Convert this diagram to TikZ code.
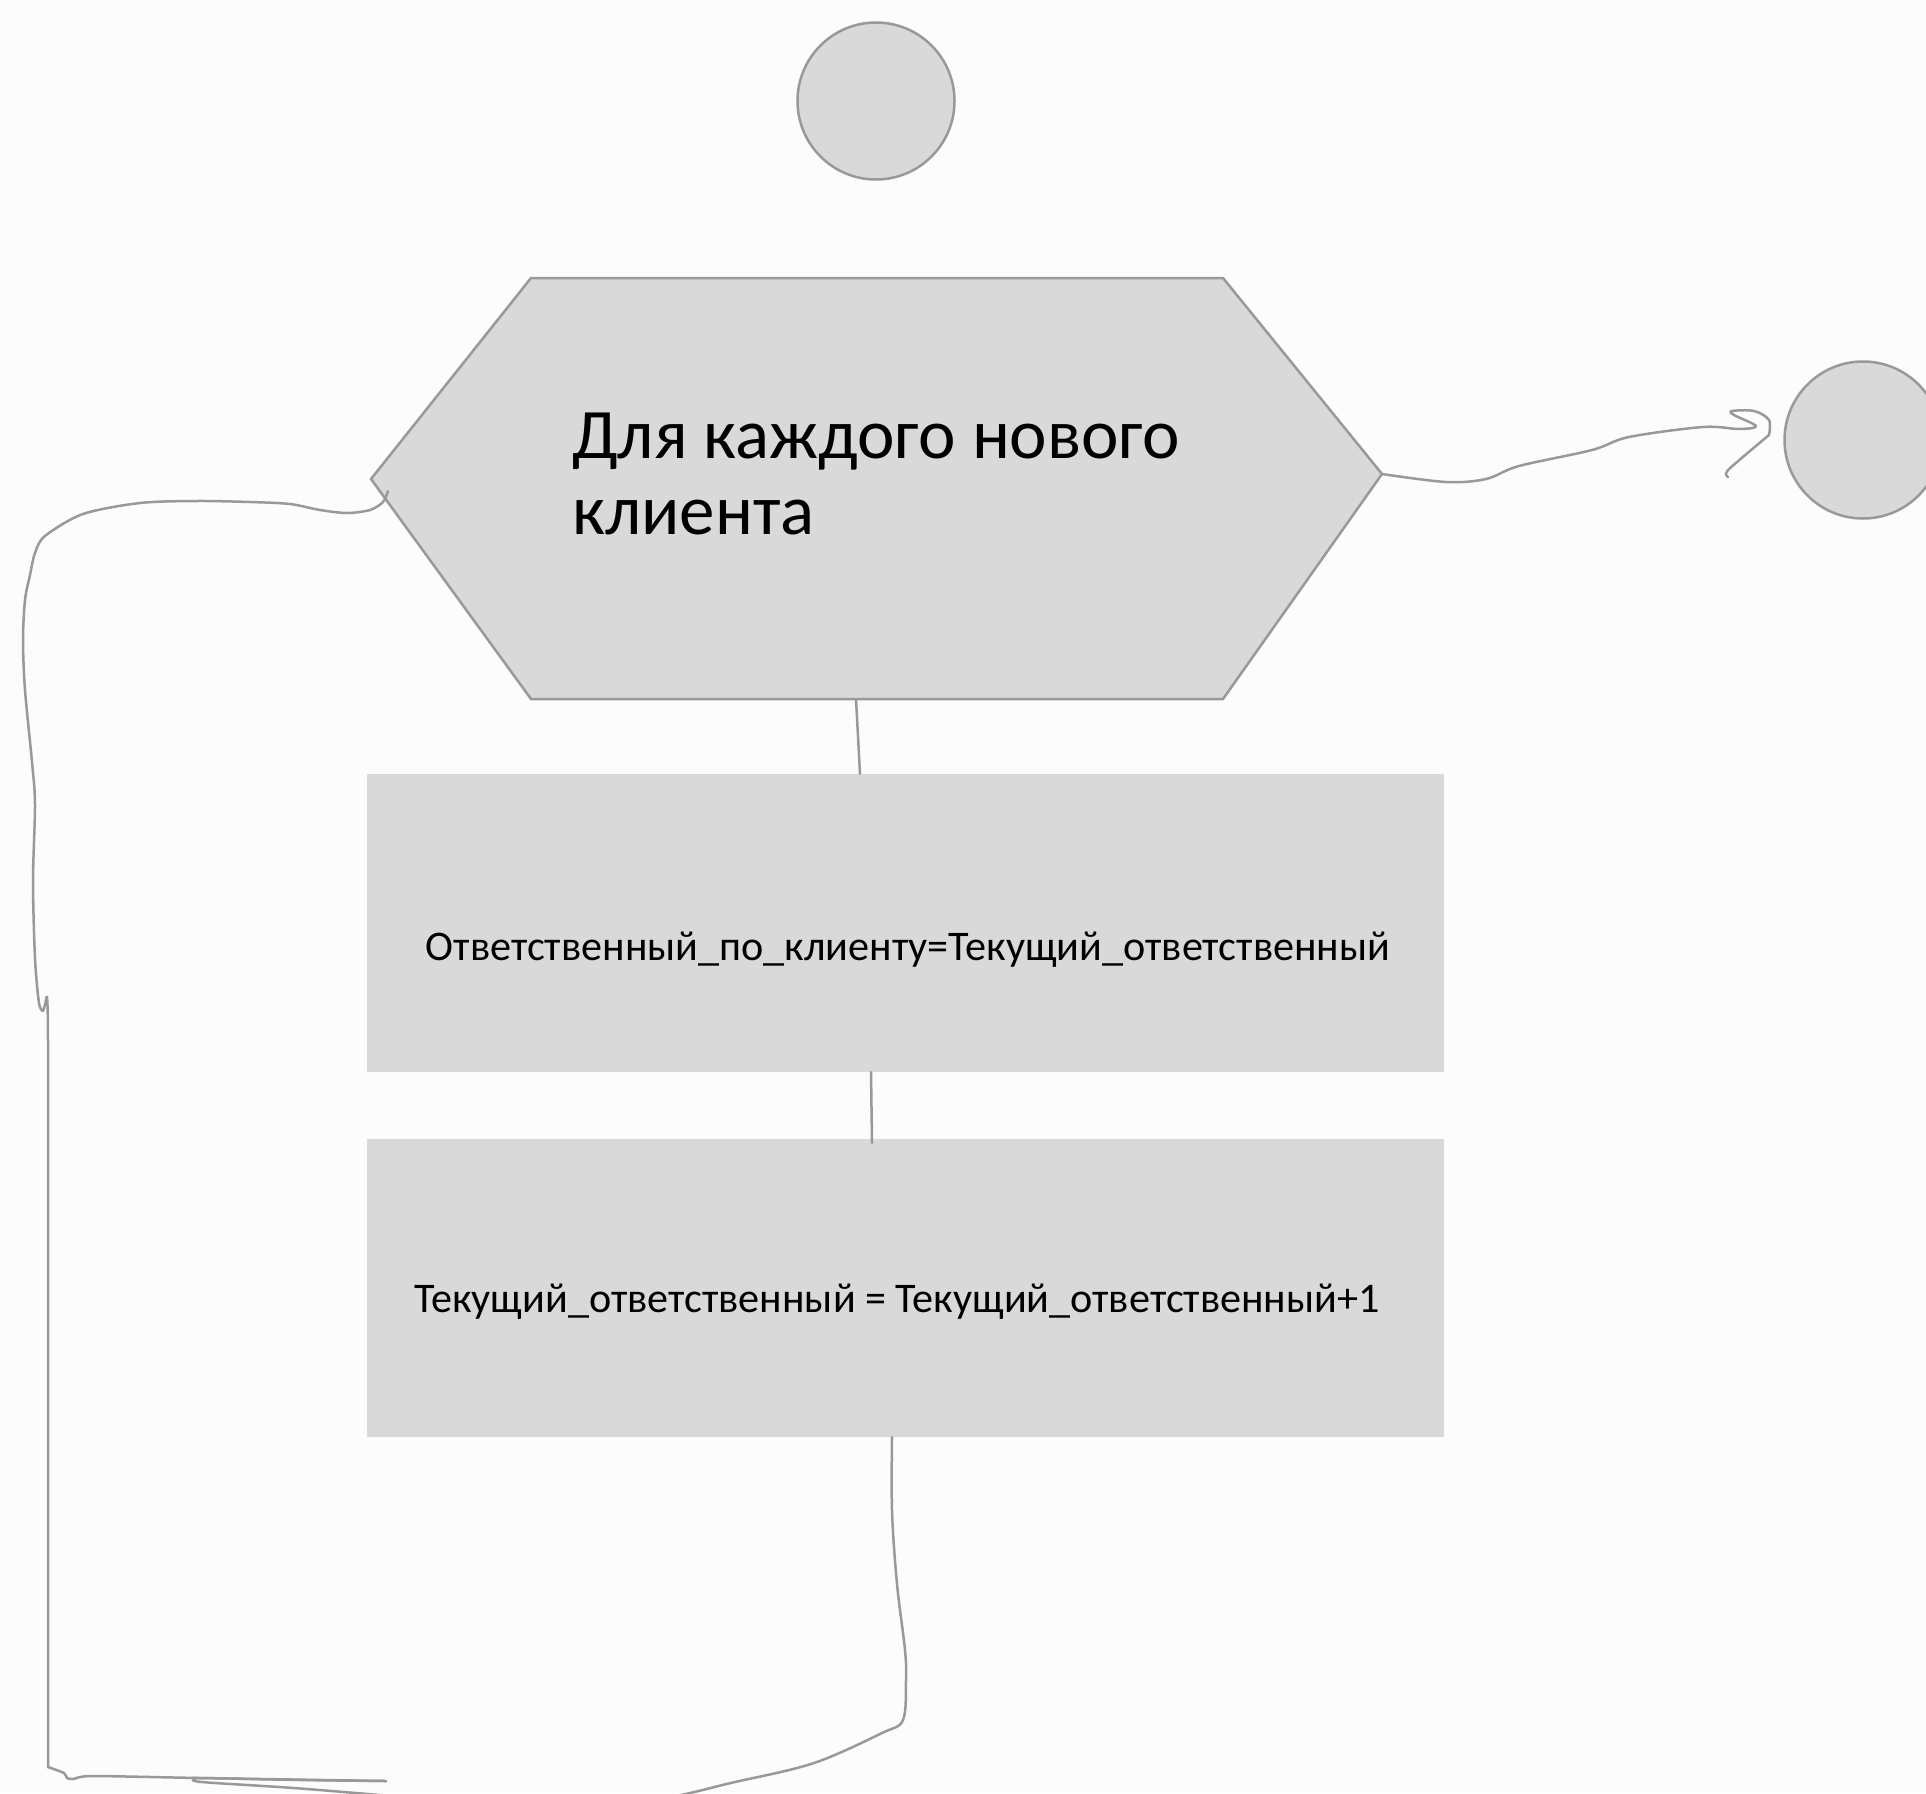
\documentclass[tikz,border=0pt]{standalone}
\usepackage{fontspec}
\setmainfont{Carlito}
\definecolor{bg}{HTML}{FCFCFC}
\definecolor{shapefill}{HTML}{D9D9D9}
\definecolor{edgegray}{HTML}{999999}
\begin{document}
\begin{tikzpicture}[x=1pt,y=-1pt,
  blob/.style={fill=shapefill,draw=edgegray,line width=2.5pt},
  circ/.style={blob,circle,minimum size=157pt,inner sep=0pt},
  box/.style={fill=shapefill,draw=none,minimum width=1077pt,minimum height=298pt,inner sep=0pt},
  wire/.style={draw=edgegray,line width=2.5pt,line cap=round,line join=round},
  bigtext/.style={font=\fontsize{71}{76}\selectfont,align=left,inner sep=0pt,text=black},
  boxtext/.style={font=\fontsize{42.2}{50}\selectfont,inner sep=0pt,text=black}]
\useasboundingbox (0,0) rectangle (1926,1793);
\fill[bg] (0,0) rectangle (1926,1793);
\clip (0,0) rectangle (1926,1793);

% nodes
\node[circ] (start) at (876,101) {};
\node[circ] (finish) at (1863,440) {};
\coordinate (htl) at (531,278);
\coordinate (htr) at (1223,278);
\coordinate (hr) at (1382,474);
\coordinate (hbr) at (1223,699);
\coordinate (hbl) at (531,699);
\coordinate (hl) at (371,479);
\draw[blob] (htl) -- (htr) -- (hr) -- (hbr) -- (hbl) -- (hl) -- cycle;
\node[bigtext,anchor=base west] (looptext) at (572,534) {Для каждого нового\\клиента};
\node[box] (assign) at (905.5,923) {};
\node[box] (incr) at (905.5,1288) {};
\node[boxtext,anchor=base] (assigntext) at (908,960) {Ответственный\_по\_клиенту=Текущий\_ответственный};
\node[boxtext,anchor=base] (incrtext) at (897,1312) {Текущий\_ответственный = Текущий\_ответственный+1};

% connectors
\coordinate (hb) at (856,699);
\draw[wire] (hb) -- ([xshift=-45.5pt]assign.north);
\draw[wire] ([xshift=-34.5pt]assign.south) -- ([xshift=-33.5pt,yshift=-4pt]incr.north);

% exit arrow (hand drawn)
\draw[wire] plot[smooth,tension=0.55] coordinates {(hr) (1446,482) (1486,479) (1519,466) (1592,450) (1629,437) (1703,427) (1739,429) (1756,426) (1734,415) (1732,411) (1754,411) (1769,420) (1769,435)};
\draw[wire] plot[smooth,tension=0.4] coordinates {(1769,435) (1728,470) (1728,477)};

% loop back (hand drawn)
\coordinate (loopstart) at (388,491);
\draw[wire] plot[smooth,tension=0.5] coordinates {(loopstart) (383,502) (370,510) (347,513) (320,510) (290,504) (250,502) (197,501) (140,503) (83,514) (45,536) (35,553) (30,575) (25,600) (23,640) (25,690) (32,762) (35,804) (33,881) (35,958) (39,1003) (43,1011)};
\draw[wire] plot[smooth,tension=0.3] coordinates {(43,1011) (45,1005) (47,997) (48,1040) (48,1400) (48,1767)};
\draw[wire] plot[smooth,tension=0.4] coordinates {(48,1767) (64,1773) (67,1778) (73,1779) (92,1776) (200,1778) (386,1781)};
\draw[wire] plot[smooth,tension=0.55] coordinates {([xshift=-13.5pt]incr.south) (892,1511) (897,1584) (905,1650) (906,1680) (903,1720) (882,1733) (814,1763) (735,1782) (650,1800) (520,1806) (380,1795) (294,1788) (202,1782) (195,1779) (202,1778) (300,1780) (386,1781)};
\end{tikzpicture}
\end{document}
